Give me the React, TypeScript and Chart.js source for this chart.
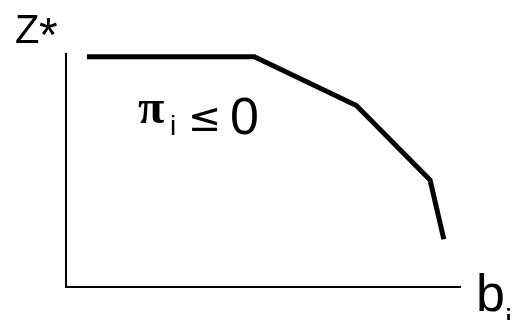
import { useEffect, useRef } from "react";
import { Chart, registerables } from "chart.js";

Chart.register(...registerables);

// Breakpoints of the optimal-value curve Z*(b_i)
const resourceLevels = [5.3, 47.8, 73.7, 92.4, 95.9];
const optimalValues = [98.8, 98.8, 77.9, 45.9, 20.5];

// Text labels
const yAxisLabel = "Z";
const yAxisStar = "*";
const xAxisLabel = "b";
const xAxisSub = "i";
const regionSymbol = "π";
const regionSub = "i";
const regionRelation = "≤";
const regionBound = "0";

const labelPlugin = {
  id: "curveLabels",
  afterDraw(chart: Chart) {
    const { ctx, chartArea } = chart;
    const { left, top, right, bottom } = chartArea;
    ctx.save();
    ctx.fillStyle = "#000";
    ctx.textAlign = "left";
    ctx.textBaseline = "alphabetic";

    ctx.font = "40px 'Liberation Sans'";
    ctx.fillText(yAxisLabel, left - 51, top - 11);
    ctx.font = "48px 'Liberation Sans'";
    ctx.fillText(yAxisStar, left - 27, top - 3);

    ctx.font = "bold 48px 'Liberation Serif'";
    ctx.fillText(regionSymbol, left + 72, top + 69);
    ctx.font = "28px 'Liberation Sans'";
    ctx.fillText(regionSub, left + 104, top + 81);
    ctx.font = "40px 'DejaVu Sans'";
    ctx.fillText(regionRelation, left + 122, top + 77);
    ctx.font = "52px 'Liberation Sans'";
    ctx.fillText(regionBound, left + 164, top + 80);

    ctx.font = "52px 'Liberation Sans'";
    ctx.fillText(xAxisLabel, right + 16, bottom + 24);
    ctx.font = "32px 'Liberation Sans'";
    ctx.fillText(xAxisSub, right + 45, bottom + 44);
    ctx.restore();
  },
};

export default function App() {
  const canvasRef = useRef<HTMLCanvasElement | null>(null);

  useEffect(() => {
    document.body.style.margin = "0";
    const canvas = canvasRef.current;
    if (!canvas) return;
    const chart = new Chart(canvas, {
      type: "scatter",
      data: {
        datasets: [
          {
            data: resourceLevels.map((x, i) => ({ x, y: optimalValues[i] })),
            showLine: true,
            borderColor: "#000",
            borderWidth: 5,
            pointRadius: 0,
            tension: 0,
            borderJoinStyle: "miter",
          },
        ],
      },
      options: {
        animation: false,
        responsive: false,
        events: [],
        layout: { padding: { left: 66, top: 54, right: 55, bottom: 33 } },
        plugins: { legend: { display: false }, tooltip: { enabled: false } },
        scales: {
          x: {
            type: "linear",
            min: 0,
            max: 100,
            grid: { display: false, drawTicks: false },
            ticks: { display: false },
            border: { display: true, color: "#000", width: 2 },
          },
          y: {
            type: "linear",
            min: 0,
            max: 100,
            grid: { display: false, drawTicks: false },
            ticks: { display: false },
            border: { display: true, color: "#000", width: 2 },
          },
        },
      },
      plugins: [labelPlugin],
    });
    return () => chart.destroy();
  }, []);

  return (
    <div style={{ width: 515, height: 320, background: "#fff" }}>
      <canvas ref={canvasRef} width={515} height={320} />
    </div>
  );
}
